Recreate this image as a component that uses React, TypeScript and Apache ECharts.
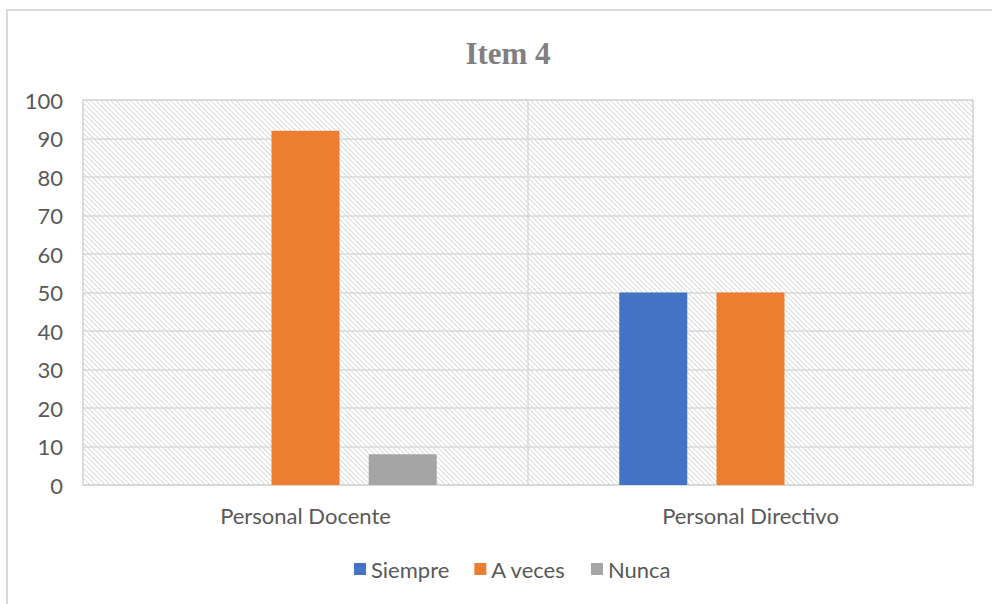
import React, { useEffect, useRef } from "react";
import * as echarts from "echarts";

const categories = ["Personal Docente", "Personal Directivo"];
const seriesNames = ["Siempre", "A veces", "Nunca"];
const siempre = [0, 50];
const aVeces = [92, 50];
const nunca = [8, 0];
const yTicks = { min: 0, max: 100, interval: 10 };

function makeHatch(): HTMLCanvasElement {
  const s = 5;
  const c = document.createElement("canvas");
  c.width = s;
  c.height = s;
  const ctx = c.getContext("2d")!;
  ctx.fillStyle = "#ffffff";
  ctx.fillRect(0, 0, s, s);
  for (let i = 0; i < s; i++) {
    ctx.fillStyle = "#dcdcdc";
    ctx.fillRect(i, i, 1, 1);
    ctx.fillStyle = "#f1f1f1";
    ctx.fillRect((i + 1) % s, i, 1, 1);
  }
  return c;
}

export default function App() {
  const ref = useRef<HTMLDivElement>(null);
  useEffect(() => {
    if (!ref.current) return;
    const chart = echarts.init(ref.current, null, { renderer: "svg" });
    const hatch = makeHatch();
    const labelFont = "Lato, 'Noto Sans', sans-serif";
    const colors = ["#4472c4", "#ed7d31", "#a5a5a5"];
    const data = [siempre, aVeces, nunca];
    chart.setOption({
      animation: false,
      backgroundColor: "#ffffff",
      title: {
        text: "Item 4",
        left: 503,
        textAlign: "center",
        top: 33,
        textStyle: {
          fontFamily: "'Liberation Serif', 'DejaVu Serif', serif",
          fontWeight: "bold",
          fontSize: 31,
          color: "#808080",
        },
      },
      graphic: [
        {
          type: "polyline",
          shape: { points: [[7, 604], [7, 10], [992, 10]] },
          style: { stroke: "#d9d9d9", lineWidth: 2, fill: "none" },
          silent: true,
        },
      ],
      legend: {
        left: 349,
        top: 553,
        itemWidth: 12,
        itemHeight: 12,
        itemGap: 25,
        icon: "rect",
        textStyle: { fontFamily: labelFont, fontSize: 22, color: "#595959" },
        data: seriesNames,
      },
      grid: {
        left: 83,
        right: 19,
        top: 100,
        bottom: 119,
        show: true,
        backgroundColor: { image: hatch, repeat: "repeat" },
        borderColor: "#d9d9d9",
        borderWidth: 1.5,
      },
      xAxis: {
        type: "category",
        data: categories,
        axisTick: { show: false },
        axisLine: { lineStyle: { color: "#d9d9d9", width: 1.5 } },
        axisLabel: {
          fontFamily: labelFont,
          fontSize: 22,
          color: "#595959",
          margin: 19,
        },
        splitLine: { show: true, lineStyle: { color: "#d9d9d9", width: 1.5 } },
      },
      yAxis: {
        type: "value",
        min: yTicks.min,
        max: yTicks.max,
        interval: yTicks.interval,
        axisLine: { show: false },
        axisTick: { show: false },
        axisLabel: {
          fontFamily: labelFont,
          fontSize: 22,
          color: "#595959",
          margin: 20,
        },
        splitLine: { lineStyle: { color: "#d9d9d9", width: 1.5 } },
      },
      series: seriesNames.map((name, i) => ({
        name,
        type: "bar",
        data: data[i],
        barWidth: 68,
        barGap: "43%",
        itemStyle: { color: colors[i] },
      })),
    });
    return () => chart.dispose();
  }, []);
  return (
    <div
      ref={ref}
      style={{ position: "fixed", left: 0, top: 0, width: 992, height: 604 }}
    />
  );
}
